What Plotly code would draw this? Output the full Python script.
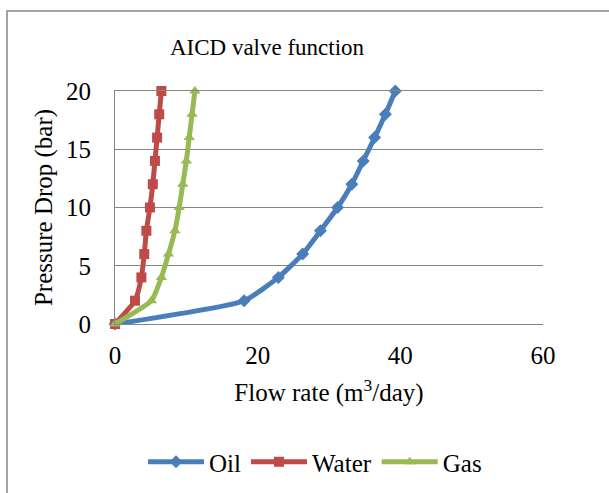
import plotly.graph_objects as go

pressure = [0, 2, 4, 6, 8, 10, 12, 14, 16, 18, 20]
oil = [0, 18.1, 22.9, 26.3, 28.8, 31.2, 33.2, 34.8, 36.4, 37.9, 39.3]
water = [0, 2.8, 3.7, 4.1, 4.4, 4.9, 5.3, 5.6, 5.9, 6.2, 6.5]
gas = [0, 5.1, 6.5, 7.5, 8.4, 9.0, 9.5, 10.0, 10.4, 10.8, 11.2]

series = [
    ("Oil", oil, "#4A7EBB", "diamond", 10),
    ("Water", water, "#BE4B48", "square", 10),
    ("Gas", gas, "#98B954", "triangle-up", 10),
]

FONT = "Liberation Serif"
GRID = "#868686"

fig = go.Figure()
for name, xs, col, sym, sz in series:
    fig.add_trace(go.Scatter(
        x=xs, y=pressure, name=name, mode="lines+markers",
        line=dict(color=col, width=5, shape="spline", smoothing=0.5),
        marker=dict(symbol=sym, size=sz, color=col),
        cliponaxis=False,
    ))

fig.update_layout(
    width=609, height=493,
    margin=dict(l=115, r=66, t=91, b=169),
    paper_bgcolor="white", plot_bgcolor="white",
    font=dict(family=FONT, size=25, color="black"),
    title=dict(text="AICD valve function", x=267/609, xanchor="center",
               y=1 - 47/493, yanchor="middle", xref="container", yref="container",
               font=dict(family=FONT, size=23, color="black")),
    showlegend=True,
    legend=dict(orientation="h", xref="container", yref="container",
                x=315/609, xanchor="center", y=1 - 462/493, yanchor="middle",
                font=dict(family=FONT, size=25, color="black"), itemwidth=56,
                tracegroupgap=0, bgcolor="rgba(0,0,0,0)"),
    xaxis=dict(range=[0, 60], dtick=20, tick0=0, showgrid=False, zeroline=False,
               showline=True, linecolor=GRID, linewidth=1, mirror=True,
               ticks="outside", ticklen=9, tickcolor="rgba(0,0,0,0)",
               tickfont=dict(family=FONT, size=25, color="black"),
               title=dict(text="Flow rate (m<sup>3</sup>/day)", standoff=15,
                          font=dict(family=FONT, size=25, color="black"))),
    yaxis=dict(range=[0, 20], dtick=5, tick0=0, showgrid=True, gridcolor=GRID,
               gridwidth=1, zeroline=False, showline=True, linecolor=GRID, linewidth=1,
               ticks="outside", ticklen=18, tickcolor="rgba(0,0,0,0)",
               tickfont=dict(family=FONT, size=25, color="black"),
               title=dict(text="Pressure Drop (bar)", standoff=6,
                          font=dict(family=FONT, size=25, color="black"))),
    shapes=[dict(type="rect", xref="paper", yref="paper",
                 x0=(7 - 115) / 428, x1=(640 - 115) / 428,
                 y0=(324 - 530) / 233, y1=(324 - 11) / 233,
                 line=dict(color=GRID, width=1.5), fillcolor="rgba(0,0,0,0)",
                 layer="below")],
)

fig.write_html("out.html")
